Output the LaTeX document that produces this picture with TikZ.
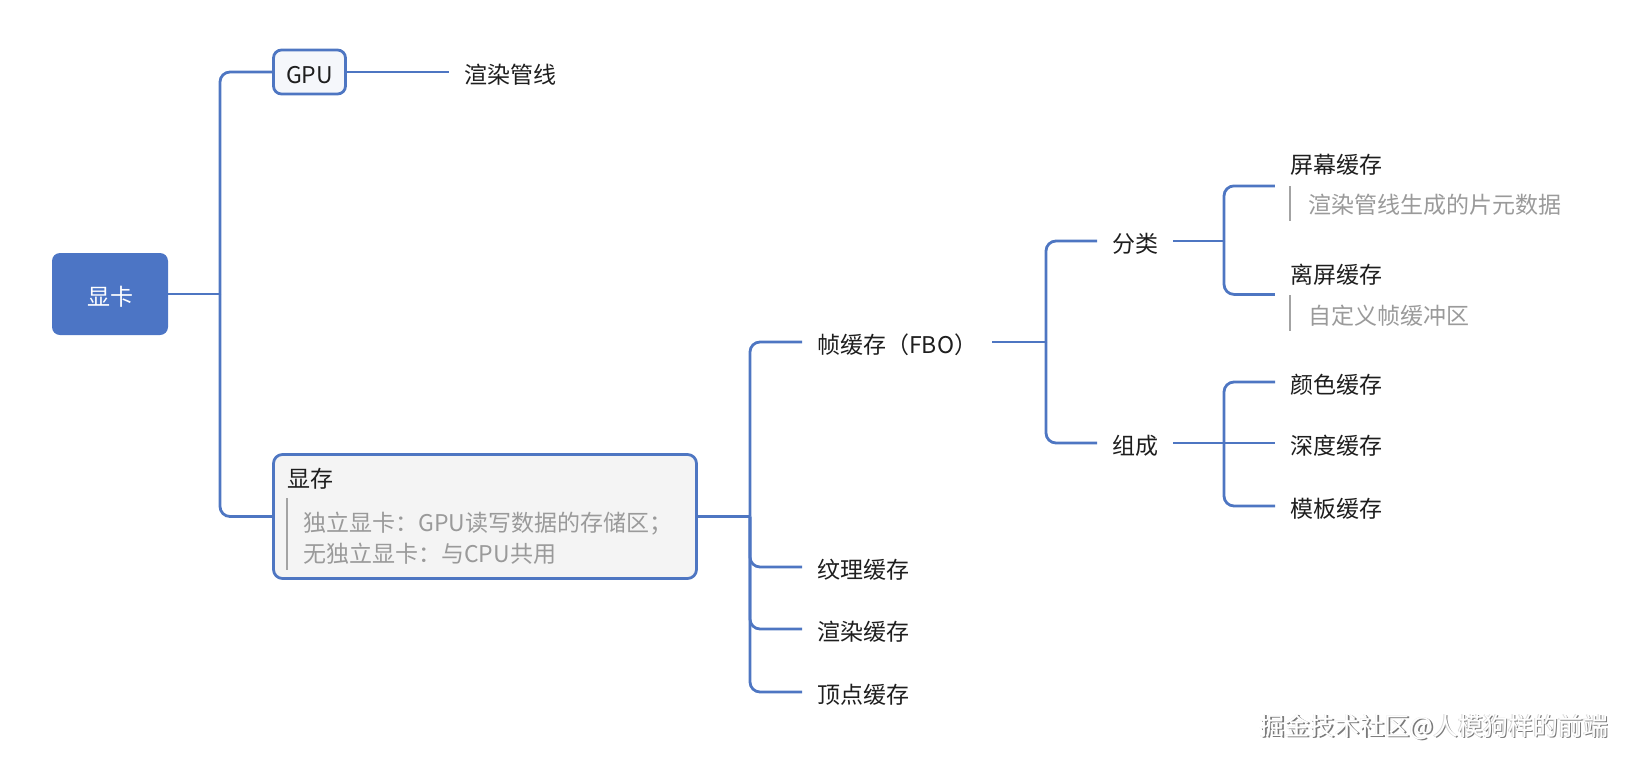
\documentclass[tikz,border=0pt]{standalone}
\usepackage{fontspec}
\setmainfont{Noto Sans CJK SC}
\usetikzlibrary{fit}
\definecolor{lineblue}{HTML}{4E76C2}
\definecolor{rootblue}{HTML}{4C75C5}
\definecolor{txt}{HTML}{1E1E1E}
\definecolor{notegray}{HTML}{9A9A9A}
\definecolor{bargray}{HTML}{A3A3A3}
\definecolor{boxfill}{HTML}{F4F4F4}
\definecolor{gpufill}{HTML}{F5F7FB}
\definecolor{wmshadow}{HTML}{7A7A7A}
\definecolor{wmlight}{HTML}{D8D8D8}
\begin{document}
\begin{tikzpicture}[x=1pt,y=-1pt,
  fnt/.style={font=\fontsize{23}{28}\selectfont, text height=25pt, text depth=3pt},
  conn/.style={draw=lineblue, line width=2.8pt, rounded corners=10pt},
  rootbox/.style={fnt, fill=rootblue, rounded corners=8pt, minimum width=116pt, minimum height=82pt, inner sep=0pt, text=white},
  gpubox/.style={fnt, draw=lineblue, line width=2.8pt, fill=gpufill, rounded corners=8pt, minimum width=72pt, minimum height=44pt, inner sep=0pt, text=txt},
  xcbox/.style={draw=lineblue, line width=2.8pt, fill=boxfill, rounded corners=9pt, minimum width=423pt, minimum height=124pt, inner sep=0pt},
  topic/.style={fnt, anchor=west, inner xsep=15pt, inner ysep=0pt, text=txt},
  ttl/.style={fnt, anchor=west, inner sep=0pt, text=txt},
  note/.style={fnt, anchor=west, inner sep=0pt, text=notegray},
  bar/.style={draw=bargray, line width=2.6pt},
  blk/.style={inner xsep=15pt, inner ysep=0pt},
  wm/.style={font=\fontsize{25}{30}\selectfont, inner sep=0pt},
]
\useasboundingbox (0,0) rectangle (1636,764);

% level 0 / 1
\node[rootbox] (root) at (110,294) {显卡};
\node[gpubox] (gpu) at (309.5,72) {GPU};
\node[topic] (pipe) at (449,72) {渲染管线};
\node[xcbox] (xc) at (485,516.5) {};
\node[ttl] (xcT) at (287,476.5) {显存};
\node[note] (xcN1) at (303,520.5) {独立显卡：GPU读写数据的存储区；};
\node[note] (xcN2) at (303,551) {无独立显卡：与CPU共用};
\draw[bar] (287,498) -- (287,570);

% level 2
\node[topic] (fbo) at (802,342) {帧缓存（FBO）};
\node[topic] (tex) at (802,567) {纹理缓存};
\node[topic] (rnd) at (802,629) {渲染缓存};
\node[topic] (vtx) at (802,692) {顶点缓存};

% level 3
\node[topic] (cls) at (1097,241) {分类};
\node[topic] (cmp) at (1097,443) {组成};

% level 4
\node[ttl] (scrT) at (1290,162.5) {屏幕缓存};
\node[note] (scrN) at (1308,202.5) {渲染管线生成的片元数据};
\draw[bar] (1290,186) -- (1290,221);
\coordinate (scrBe) at (1290,223.5);
\node[blk, fit=(scrT)(scrN)(scrBe)] (scr) {};

\node[ttl] (offT) at (1290,272) {离屏缓存};
\node[note] (offN) at (1308,313) {自定义帧缓冲区};
\draw[bar] (1290,295) -- (1290,331);
\coordinate (offBe) at (1290,331);
\node[blk, fit=(offT)(offN)(offBe)] (off) {};

\node[topic] (col) at (1275,382) {颜色缓存};
\node[topic] (dep) at (1275,443) {深度缓存};
\node[topic] (stn) at (1275,506) {模板缓存};

% connectors
\coordinate (t1) at (220,294);
\draw[conn] (root.east) -- (t1);
\draw[conn] (t1) |- (gpu.west);
\draw[conn] (t1) |- (xc.west);
\draw[conn] (gpu.east) -- (pipe.west);

\coordinate (t2) at (750,516.5);
\draw[conn] (xc.east) -- (t2);
\draw[conn] (t2) |- (fbo.west);
\draw[conn] (t2) |- (tex.west);
\draw[conn] (t2) |- (rnd.west);
\draw[conn] (t2) |- (vtx.west);

\coordinate (t3) at (1046,342);
\draw[conn] (fbo.east) -- (t3);
\draw[conn] (t3) |- (cls.west);
\draw[conn] (t3) |- (cmp.west);

\coordinate (t4) at (1224,241);
\draw[conn] (cls.east) -- (t4);
\draw[conn] (t4) |- (scr.west);
\draw[conn] (t4) |- (off.west);

\coordinate (t5) at (1224,443);
\draw[conn] (cmp.east) -- (t5);
\draw[conn] (t5) |- (col.west);
\draw[conn] (t5) -- (dep.west);
\draw[conn] (t5) |- (stn.west);

% watermark
\node[wm, text=wmshadow] (wmS) at (1435.5,728.5) {掘金技术社区@人模狗样的前端};
\node[wm, text=wmlight] (wmL) at (1433.6,726.6) {掘金技术社区@人模狗样的前端};
\node[wm, text=white] (wmT) at (1434.3,727.3) {掘金技术社区@人模狗样的前端};
\end{tikzpicture}
\end{document}
